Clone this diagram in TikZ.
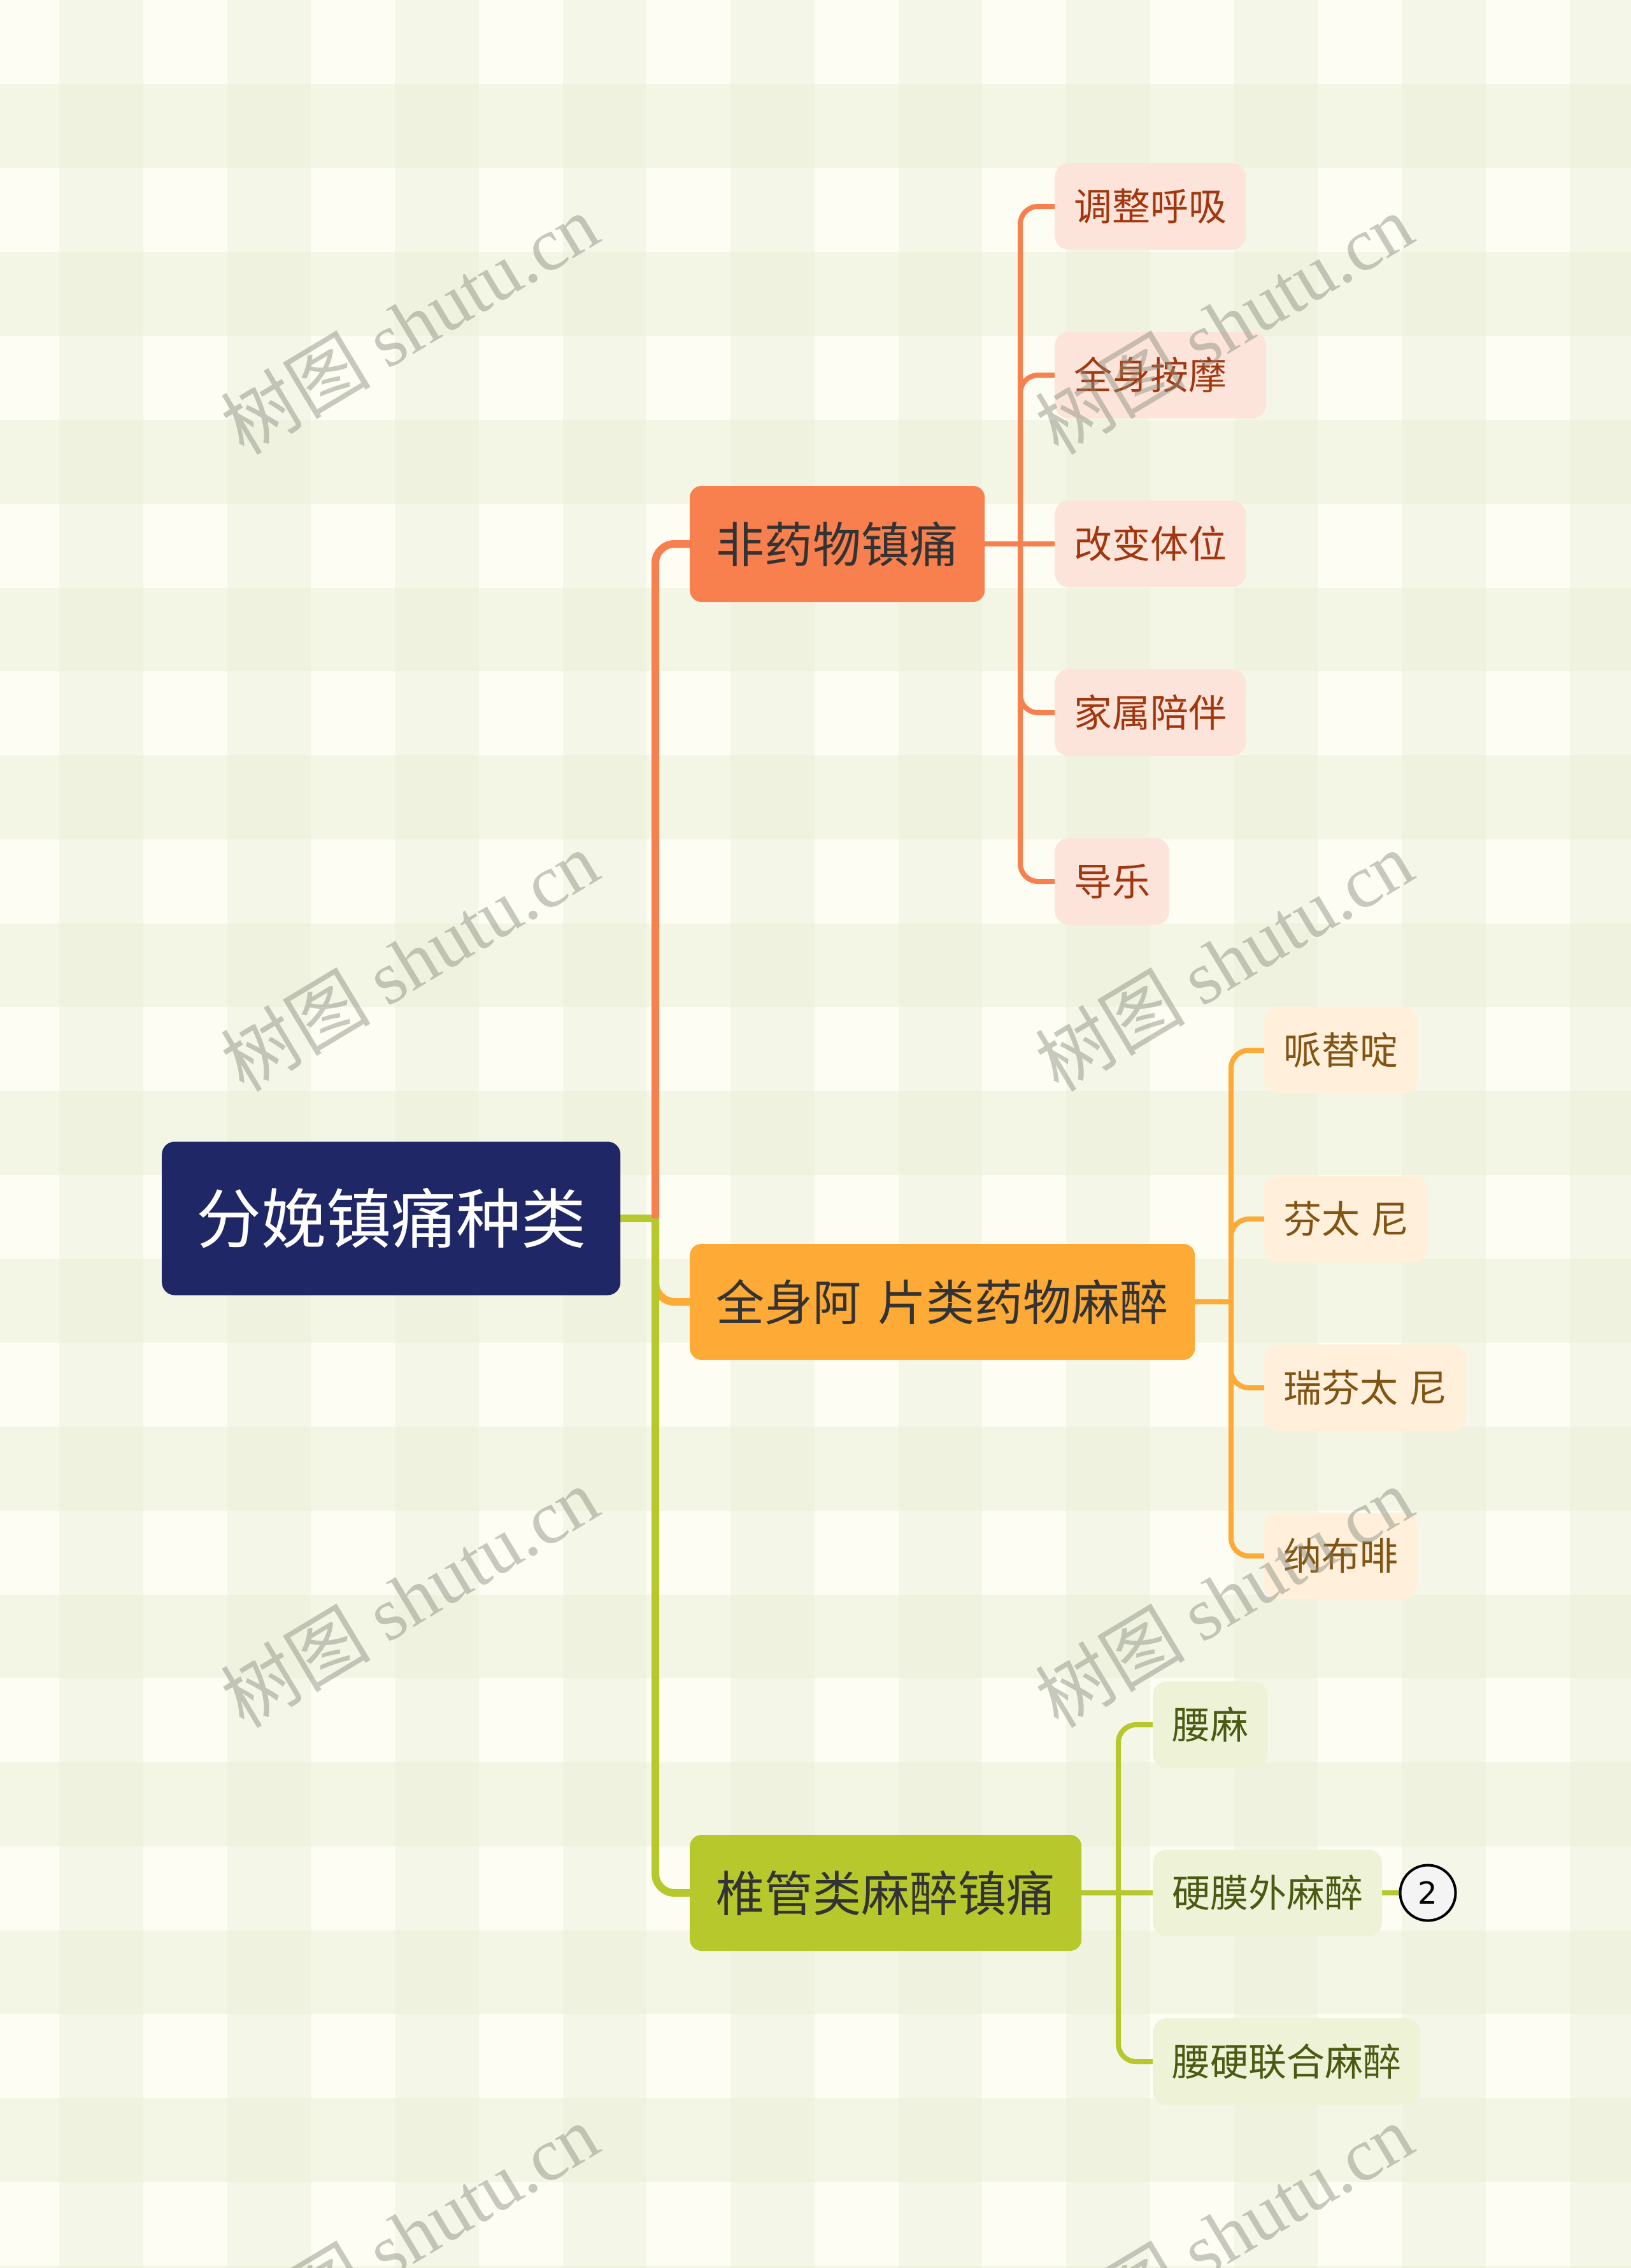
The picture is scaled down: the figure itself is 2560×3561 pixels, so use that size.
\documentclass[tikz,border=0pt]{standalone}
\usepackage{fontspec}
\setmainfont{Noto Sans CJK SC}
\newfontfamily\digitfont{DejaVu Sans}
\newfontfamily\wmlatin{Liberation Serif}
\usetikzlibrary{calc}
\definecolor{cream}{HTML}{FEFDF3}
\definecolor{stripeA}{HTML}{F4F6E8}
\definecolor{stripeB}{HTML}{F3F5E5}
\definecolor{stripeC}{HTML}{EEF2DF}
\definecolor{rootc}{HTML}{1F2767}
\definecolor{orangec}{HTML}{F8804F}
\definecolor{yellowc}{HTML}{FDAA36}
\definecolor{greenc}{HTML}{B6C82C}
\definecolor{pinkfill}{HTML}{FDE4DA}
\definecolor{pinktext}{HTML}{A2370F}
\definecolor{peachfill}{HTML}{FFEFDB}
\definecolor{peachtext}{HTML}{815413}
\definecolor{olivefill}{HTML}{EEF2D7}
\definecolor{olivetext}{HTML}{4A5A12}
\definecolor{darktext}{HTML}{333333}
\definecolor{wmgray}{HTML}{868A7A}
\definecolor{circfill}{HTML}{F4F4F4}
\pgfdeclarelayer{bg}
\pgfdeclarelayer{edges}
\pgfdeclarelayer{wm}
\pgfsetlayers{bg,edges,main,wm}
\begin{document}
\begin{tikzpicture}[x=1pt,y=-1pt,
  rootbox/.style={fill=rootc, text=white, rounded corners=20pt, minimum height=241pt, inner xsep=54pt, inner ysep=0pt, font=\fontsize{102}{102}\selectfont, anchor=west},
  branchbox/.style={rounded corners=18pt, minimum height=182pt, inner xsep=41.5pt, inner ysep=0pt, text=darktext, font=\fontsize{76}{76}\selectfont, anchor=west},
  leafbox/.style={rounded corners=22pt, minimum height=136pt, inner xsep=30pt, inner ysep=0pt, font=\fontsize{60}{60}\selectfont, anchor=west},
  pinkleaf/.style={leafbox, fill=pinkfill, text=pinktext},
  peachleaf/.style={leafbox, fill=peachfill, text=peachtext},
  oliveleaf/.style={leafbox, fill=olivefill, text=olivetext},
  trunkline/.style={line width=12pt},
  leafline/.style={line width=8pt},
  wmark/.style={rotate=31, text=wmgray, text opacity=0.45, font=\fontsize{118}{118}\selectfont, inner sep=0pt}
]
\useasboundingbox (0,0) rectangle (2560,3561);
\begin{pgfonlayer}{bg}
\fill[cream] (0,0) rectangle (2560,3561);
\foreach \i in {0,...,9} { \fill[stripeA] ({93+263.5*\i},0) rectangle ++(131.75,3561); }
\foreach \j in {0,...,13} { \fill[stripeB] (0,{132+263.5*\j}) rectangle ++(2560,131.75); }
\foreach \i in {0,...,9} { \foreach \j in {0,...,13} { \fill[stripeC] ({93+263.5*\i},{132+263.5*\j}) rectangle ++(131.75,131.75); } }
\end{pgfonlayer}

% nodes
\node[rootbox] (root) at (254,1913) {分娩镇痛种类};
\node[branchbox, fill=orangec] (b1) at (1083,854) {非药物镇痛};
\node[branchbox, fill=yellowc] (b2) at (1083,2044) {全身阿\kern26pt 片类药物麻醉};
\node[branchbox, fill=greenc] (b3) at (1083,2972) {椎管类麻醉镇痛};

\node[pinkleaf] (a1) at (1656,324) {调整呼吸};
\node[pinkleaf] (a2) at (1656,589) {全身按摩\kern32pt\relax};
\node[pinkleaf] (a3) at (1656,854) {改变体位};
\node[pinkleaf] (a4) at (1656,1119) {家属陪伴};
\node[pinkleaf] (a5) at (1656,1384) {导乐};

\node[peachleaf] (c1) at (1985,1649) {哌替啶};
\node[peachleaf] (c2) at (1985,1914) {芬太\kern17pt 尼};
\node[peachleaf] (c3) at (1985,2179) {瑞芬太\kern17pt 尼};
\node[peachleaf] (c4) at (1985,2443) {纳布啡};

\node[oliveleaf] (d1) at (1810,2708) {腰麻};
\node[oliveleaf] (d2) at (1810,2972) {硬膜外麻醉};
\node[oliveleaf] (d3) at (1810,3237) {腰硬联合麻醉};

\node[circle, draw=black, line width=4pt, fill=circfill, minimum size=87pt, inner sep=0pt, font=\digitfont\fontsize{48}{48}\selectfont] (n2) at (2242,2972) {2};

% connectors
\begin{pgfonlayer}{edges}
\coordinate (J) at (1029,1913);
\draw[yellowc, trunkline, rounded corners=30pt] (J) -- (J |- b2.west) -- (b2.west);
\draw[greenc, trunkline, line cap=rect] (root.east) -- (J);
\draw[greenc, trunkline, rounded corners=30pt] (J) -- (J |- b3.west) -- (b3.west);
\draw[orangec, trunkline, rounded corners=30pt] (J) -- (J |- b1.west) -- (b1.west);

\coordinate (VA) at (1602,854);
\draw[orangec, leafline] (b1.east) -- (VA) -- (a3.west);
\foreach \n in {a1,a2,a4,a5} { \draw[orangec, leafline, rounded corners=28pt] (VA) -- (VA |- \n.west) -- (\n.west); }

\coordinate (VB) at (1933,2044);
\draw[yellowc, leafline] (b2.east) -- (VB);
\foreach \n in {c1,c2,c3,c4} { \draw[yellowc, leafline, rounded corners=28pt] (VB) -- (VB |- \n.west) -- (\n.west); }

\coordinate (VC) at (1756,2972);
\draw[greenc, leafline] (b3.east) -- (VC) -- (d2.west);
\foreach \n in {d1,d3} { \draw[greenc, leafline, rounded corners=28pt] (VC) -- (VC |- \n.west) -- (\n.west); }
\draw[greenc, leafline] (d2.east) -- (n2.west);
\end{pgfonlayer}

% watermark
\begin{pgfonlayer}{wm}
\foreach \x/\y/\k in {643/508/1,1922/508/2,643/1508/3,1922/1508/4,643/2507/5,1922/2507/6,643/3507/7,1922/3507/8} {
  \node[wmark] (wm\k) at (\x,\y) {树图 {\wmlatin shutu.cn}};
}
\end{pgfonlayer}
\end{tikzpicture}
\end{document}
